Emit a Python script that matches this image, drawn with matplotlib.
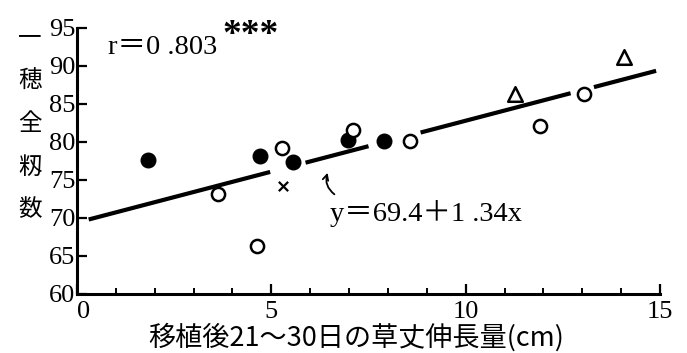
"""Scatter of grains per panicle vs. plant height growth, with regression line."""

import matplotlib

matplotlib.use("Agg")
import matplotlib.pyplot as plt
import numpy as np

# data
filled_x = [1.83, 4.72, 5.57, 6.98, 7.89]
filled_y = [77.6, 78.2, 77.4, 80.3, 80.1]
open_x = [3.63, 4.64, 5.28, 7.09, 8.56, 11.9, 13.04]
open_y = [73.2, 66.3, 79.2, 81.6, 80.1, 82.1, 86.3]
tri_x = [11.26, 14.07]
tri_y = [86.3, 91.2]
cross_x = [5.31]
cross_y = [74.2]

intercept, slope = 69.4, 1.34
# regression line is drawn in pieces with gaps around points/labels
line_pieces = [(0.3, 4.97), (5.88, 7.5), (8.84, 12.7), (13.3, 14.9)]

xticks = [0, 5, 10, 15]
yticks = [60, 65, 70, 75, 80, 85, 90, 95]
ylabel_chars = ["一", "穂", "全", "籾", "数"]
xlabel = "移植後21〜30日の草丈伸長量(cm)"

NUM_FONT = ["Liberation Serif", "Noto Sans CJK JP"]
JP_FONT = ["Noto Sans CJK JP", "DejaVu Sans"]

fig = plt.figure(figsize=(6.87, 3.53), dpi=100)
ax = fig.add_axes([77 / 687, 1 - 294 / 353, (660 - 77) / 687, (294 - 28) / 353])

for x0, x1 in line_pieces:
    xs = np.array([x0, x1])
    ax.plot(xs, intercept + slope * xs, color="black", lw=3.0, solid_capstyle="butt")

ax.scatter(filled_x, filled_y, s=110, color="black", zorder=3)
ax.scatter(open_x, open_y, s=90, facecolor="white", edgecolor="black", lw=1.8, zorder=3)
ax.scatter(tri_x, tri_y, s=110, marker="^", facecolor="white", edgecolor="black", lw=1.8, zorder=3)
ax.scatter(cross_x, cross_y, s=45, marker="x", color="black", lw=1.6, zorder=3)

ax.set_xlim(0, 15)
ax.set_ylim(60, 95)
for side in ("top", "right"):
    ax.spines[side].set_visible(False)
for side in ("left", "bottom"):
    ax.spines[side].set_linewidth(2.2)

ax.set_xticks(xticks)
ax.set_xticks(range(0, 16), minor=True)
ax.set_yticks(yticks)
ax.tick_params(axis="both", which="major", direction="in", length=7, width=1.6)
ax.tick_params(axis="x", which="minor", direction="in", length=4, width=1.4)
ax.set_xticklabels([str(t) for t in xticks], fontfamily=NUM_FONT, fontsize=19)
ax.set_yticklabels([str(t) for t in yticks], fontfamily=NUM_FONT, fontsize=19)
ax.tick_params(axis="y", pad=1)
ax.tick_params(axis="x", pad=5)
ax.get_xticklabels()[0].set_horizontalalignment("left")

ax.text(0.8, 92.4, "r＝0 .803", fontfamily=NUM_FONT, fontsize=20.5, va="center", ha="left")
ax.text(3.75, 94.0, "***", fontfamily=NUM_FONT, fontsize=27, fontweight="bold",
        va="center", ha="left")
ax.text(6.5, 70.6, "y＝69.4＋1 .34x", fontfamily=NUM_FONT, fontsize=20.5, va="center", ha="left")
ax.annotate("", xy=(6.47, 76.3), xytext=(6.68, 72.9),
            arrowprops=dict(arrowstyle="->", lw=1.3, color="black",
                            connectionstyle="arc3,rad=-0.4"))

fig.text(356 / 687, 1 - 337 / 353, xlabel, fontfamily=JP_FONT, fontsize=19.5,
         ha="center", va="center")
for i, ch in enumerate(ylabel_chars):
    fig.text(30 / 687, 1 - (38 + i * 43) / 353, ch, fontfamily=JP_FONT, fontsize=17,
             ha="center", va="center")

fig.savefig("out.png", dpi=100)
